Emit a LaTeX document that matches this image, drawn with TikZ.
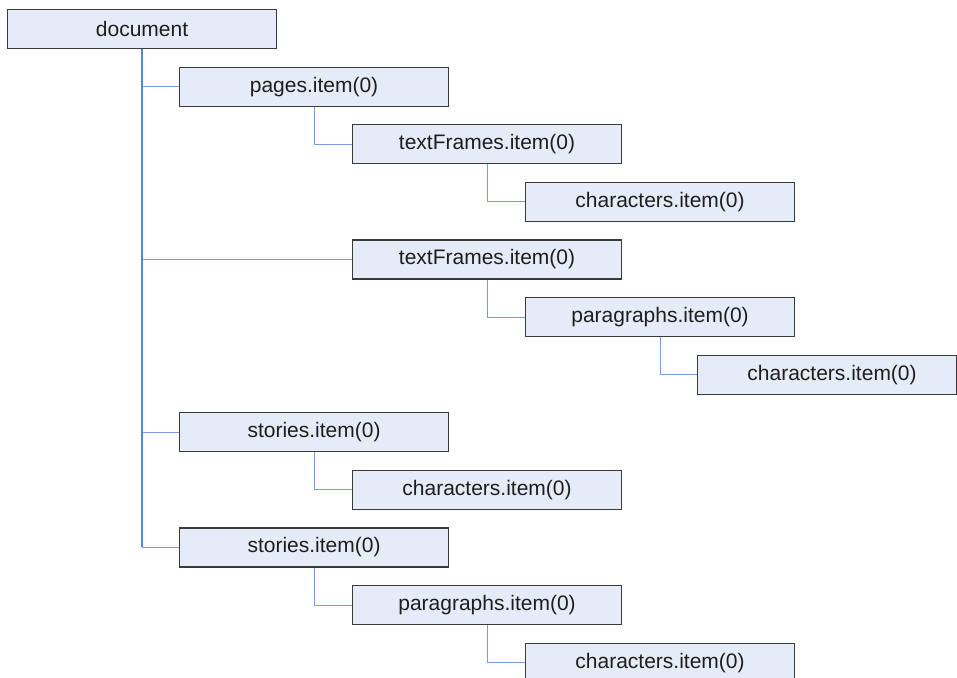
\documentclass[tikz,border=0pt]{standalone}
\usepackage{fontspec}
\setmainfont{Liberation Sans}
\definecolor{boxfill}{HTML}{E6ECF7}
\definecolor{boxline}{HTML}{3A3A3A}
\definecolor{linkblue}{HTML}{7A9CD9}
\definecolor{trunkblue}{HTML}{5A86CF}
\definecolor{txt}{HTML}{1E1E1E}
\begin{document}
\begin{tikzpicture}[x=1pt,y=-1pt,
  box/.style={draw=boxline, fill=boxfill, line width=1.1pt, minimum width=269pt,
    minimum height=39pt, inner sep=0pt, anchor=north west, text=txt,
    font=\fontsize{21}{25}\selectfont},
  link/.style={draw=linkblue, line width=1pt},
  trunk/.style={draw=trunkblue, line width=2pt}]
\useasboundingbox (0,0) rectangle (957,677);
\clip (0,0) rectangle (957,677);
\fill[white] (0,0) rectangle (957,677);
\node[box] (doc) at (7,9) {document};
\node[box] (pg) at (179,66.6) {pages.item(0)};
\node[box] (tfa) at (352,124.2) {textFrames.item(0)};
\node[box] (cha) at (525,181.8) {characters.item(0)};
\node[box] (tfb) at (352,239.4) {textFrames.item(0)};
\node[box] (pa) at (525,297) {paragraphs.item(0)};
\node[box, minimum width=259pt] (chb) at (697,354.6) {\hspace*{10pt}characters.item(0)};
\node[box] (stA) at (179,412.2) {stories.item(0)};
\node[box] (chc) at (352,469.8) {characters.item(0)};
\node[box] (stB) at (179,527.4) {stories.item(0)};
\node[box] (pb) at (352,585) {paragraphs.item(0)};
\node[box] (chd) at (525,642.6) {characters.item(0)};
\draw[link] (doc.south) |- (pg.west);
\draw[link] (doc.south) |- (tfb.west);
\draw[link] (doc.south) |- (stA.west);
\draw[link] (doc.south) |- (stB.west);
\draw[trunk] (doc.south) -- (doc.south |- stB.west);
\draw[link] (pg.south) |- (tfa.west);
\draw[link] (tfa.south) |- (cha.west);
\draw[link] (tfb.south) |- (pa.west);
\draw[link] (pa.south) |- (chb.west);
\draw[link] (stA.south) |- (chc.west);
\draw[link] (stB.south) |- (pb.west);
\draw[link] (pb.south) |- (chd.west);
\end{tikzpicture}
\end{document}
